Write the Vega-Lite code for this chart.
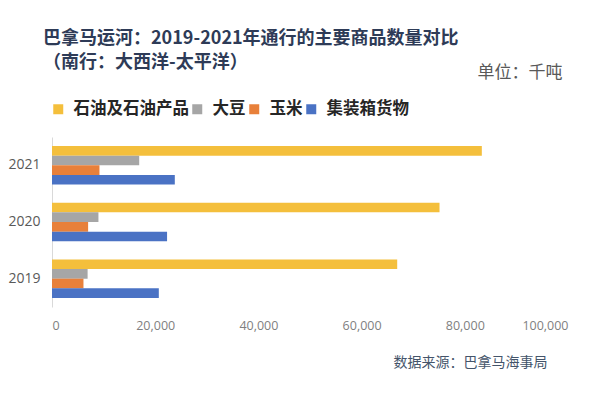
{
  "$schema": "https://vega.github.io/schema/vega-lite/v6.json",
  "width": 516,
  "height": 170,
  "autosize": {"type": "none"},
  "padding": {"left": 52, "top": 137, "right": 32, "bottom": 86},
  "background": "white",
  "title": {
    "text": ["巴拿马运河：2019-2021年通行的主要商品数量对比", "（南行：大西洋-太平洋）"],
    "anchor": "start",
    "frame": "group",
    "font": "Noto Sans CJK SC",
    "fontSize": 18,
    "fontWeight": "bold",
    "color": "#2E3B57",
    "lineHeight": 24,
    "baseline": "top",
    "dx": -9,
    "dy": 13
  },
  "data": {
    "values": [
      {"year": "2021", "cargo": "石油及石油产品", "value": 83300},
      {"year": "2021", "cargo": "大豆", "value": 16900},
      {"year": "2021", "cargo": "玉米", "value": 9200},
      {"year": "2021", "cargo": "集装箱货物", "value": 23800},
      {"year": "2020", "cargo": "石油及石油产品", "value": 75100},
      {"year": "2020", "cargo": "大豆", "value": 9000},
      {"year": "2020", "cargo": "玉米", "value": 7000},
      {"year": "2020", "cargo": "集装箱货物", "value": 22300},
      {"year": "2019", "cargo": "石油及石油产品", "value": 66900},
      {"year": "2019", "cargo": "大豆", "value": 6900},
      {"year": "2019", "cargo": "玉米", "value": 6100},
      {"year": "2019", "cargo": "集装箱货物", "value": 20700}
    ]
  },
  "mark": {"type": "bar"},
  "encoding": {
    "y": {
      "field": "year",
      "type": "nominal",
      "sort": "descending",
      "scale": {"paddingInner": 0.32, "paddingOuter": 0.16},
      "axis": {
        "title": "单位：千吨",
        "titleAngle": 0,
        "titleAlign": "right",
        "titleBaseline": "middle",
        "titleX": 510,
        "titleY": -65,
        "titleFont": "Noto Sans CJK SC",
        "titleFontSize": 17,
        "titleFontWeight": "normal",
        "titleColor": "#595959",
        "labelFont": "Open Sans",
        "labelFontSize": 14,
        "labelColor": "#595959",
        "labelPadding": 12,
        "ticks": false,
        "domainColor": "#D9D9D9",
        "domainWidth": 1,
        "grid": false
      }
    },
    "yOffset": {
      "field": "cargo",
      "type": "nominal",
      "sort": ["石油及石油产品", "大豆", "玉米", "集装箱货物"],
      "scale": {"paddingInner": 0, "paddingOuter": 0}
    },
    "x": {
      "field": "value",
      "type": "quantitative",
      "scale": {"domain": [0, 100000], "nice": false},
      "axis": {
        "values": [0, 20000, 40000, 60000, 80000, 100000],
        "format": ",d",
        "title": "数据来源：巴拿马海事局",
        "titleAnchor": "start",
        "titleAlign": "left",
        "titleBaseline": "middle",
        "titleX": 341,
        "titleY": 55,
        "titleFont": "Noto Sans CJK SC",
        "titleFontSize": 14,
        "titleFontWeight": "normal",
        "titleColor": "#44546A",
        "labelFont": "Open Sans",
        "labelFontSize": 12.5,
        "labelColor": "#7F7F7F",
        "labelPadding": 12,
        "labelBaseline": "top",
        "ticks": false,
        "domain": false,
        "grid": false
      }
    },
    "color": {
      "field": "cargo",
      "type": "nominal",
      "sort": ["石油及石油产品", "大豆", "玉米", "集装箱货物"],
      "scale": {
        "domain": ["石油及石油产品", "大豆", "玉米", "集装箱货物"],
        "range": ["#F4BF3C", "#A6A6A6", "#E8803A", "#4A72C4"]
      },
      "legend": {
        "title": null,
        "orient": "none",
        "direction": "horizontal",
        "legendX": -2,
        "legendY": -36,
        "gridAlign": "none",
        "symbolType": "square",
        "symbolSize": 100,
        "symbolStrokeWidth": 0,
        "symbolOpacity": 1,
        "labelFont": "Noto Sans CJK SC",
        "labelFontSize": 16.5,
        "labelFontWeight": "bold",
        "labelColor": "#262626",
        "labelOffset": 7,
        "columnPadding": 0
      }
    }
  },
  "config": {
    "view": {"stroke": null},
    "font": "Noto Sans CJK SC"
  }
}
